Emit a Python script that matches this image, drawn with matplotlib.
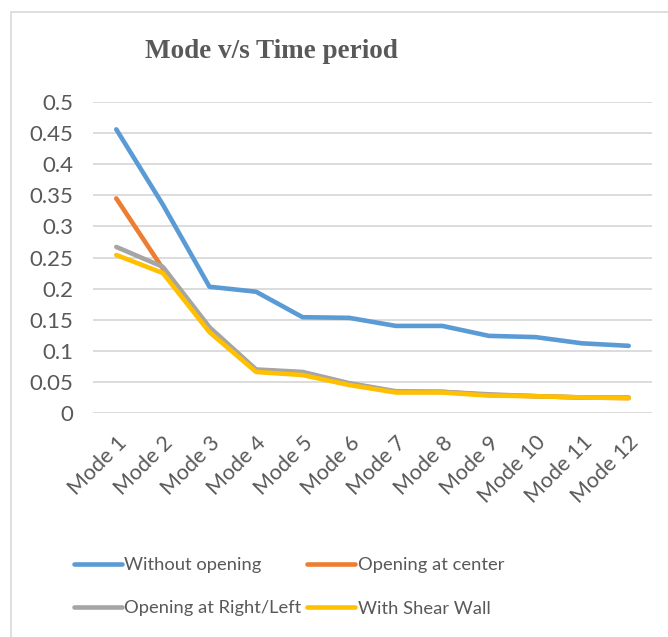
import matplotlib.pyplot as plt
from matplotlib.patches import Rectangle

# values
modes = ["Mode 1", "Mode 2", "Mode 3", "Mode 4", "Mode 5", "Mode 6",
         "Mode 7", "Mode 8", "Mode 9", "Mode 10", "Mode 11", "Mode 12"]
without_opening = [0.456, 0.335, 0.203, 0.195, 0.154, 0.153, 0.140, 0.140, 0.124, 0.122, 0.112, 0.108]
opening_center = [0.345, 0.232, 0.136, 0.069, 0.065, 0.047, 0.034, 0.034, 0.029, 0.027, 0.025, 0.024]
opening_right_left = [0.267, 0.235, 0.138, 0.070, 0.066, 0.048, 0.035, 0.034, 0.030, 0.027, 0.025, 0.025]
shear_wall = [0.254, 0.225, 0.130, 0.066, 0.061, 0.045, 0.033, 0.033, 0.028, 0.027, 0.025, 0.024]
yticks = [0, 0.05, 0.1, 0.15, 0.2, 0.25, 0.3, 0.35, 0.4, 0.45, 0.5]

W, H = 668, 637
txt = "#595959"
body_font = ["Lato", "DejaVu Sans"]

fig = plt.figure(figsize=(W / 100, H / 100), dpi=100)
fig.patches.append(Rectangle((11 / W, -0.1), 1.2, (H - 12) / H + 0.1, transform=fig.transFigure,
                             fill=False, edgecolor="#d9d9d9", linewidth=1.2))

ax = fig.add_axes([93 / W, (H - 413) / H, (652 - 93) / W, (413 - 102) / H])
x = list(range(len(modes)))
lw = 3.3
kw = dict(lw=lw, solid_capstyle="round", solid_joinstyle="round")
l1, = ax.plot(x, without_opening, color="#5b9bd5", label="Without opening", **kw)
l2, = ax.plot(x, opening_center, color="#ed7d31", label="Opening at center", **kw)
l3, = ax.plot(x, opening_right_left, color="#a5a5a5", label="Opening at Right/Left", **kw)
l4, = ax.plot(x, shear_wall, color="#ffc000", label="With Shear Wall", **kw)

ax.set_xlim(-0.5, 11.5)
ax.set_ylim(0, 0.5)
ax.set_yticks(yticks)
ax.set_yticklabels([f"{v:g}" for v in yticks], fontsize=16, color=txt, family=body_font)
ax.set_xticks(x)
ax.set_xticklabels(modes, rotation=45, ha="right", va="top", rotation_mode="anchor",
                   fontsize=15.5, color=txt, family=body_font)
ax.tick_params(length=0)
ax.tick_params(axis="y", pad=14)
ax.tick_params(axis="x", pad=14)
ax.grid(axis="y", color="#d9d9d9", lw=1.3)
ax.set_axisbelow(True)
for s in ax.spines.values():
    s.set_visible(False)

fig.text(271 / W, 1 - 51 / H, "Mode v/s Time period", ha="center", va="center",
         fontsize=19.5, fontweight="bold", color=txt, family="Liberation Serif")

# legend filled row by row like the original
handles = [l1, l3, l2, l4]
labels = [h.get_label() for h in handles]
leg = fig.legend(handles, labels, ncol=2, loc="upper left", bbox_to_anchor=(74 / W, 1 - 557 / H),
                 frameon=False, borderpad=0, borderaxespad=0, handlelength=2.6, handletextpad=0.15,
                 columnspacing=0.3, labelspacing=1.5, prop={"family": body_font, "size": 13.2})
for t in leg.get_texts():
    t.set_color(txt)

fig.savefig("out.png", dpi=100)
